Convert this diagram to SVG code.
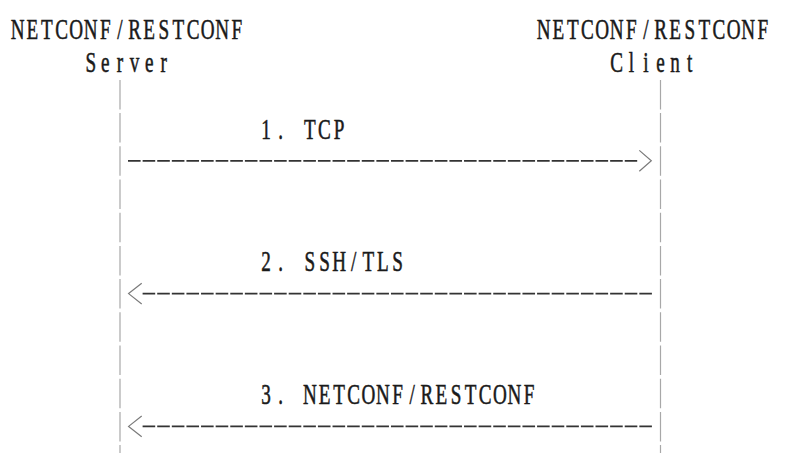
<svg xmlns="http://www.w3.org/2000/svg" width="790" height="453" viewBox="0 0 790 453">
<style>
  .t { font-family: "Liberation Serif", "Times New Roman", serif; font-size: 29px; fill: #1a1a1a; stroke: #1a1a1a; stroke-width: 0.55; text-anchor: middle; }
  .life { stroke: #a8a8a8; stroke-width: 1.2; stroke-dasharray: 29.5 3.7; fill: none; }
  .dash { stroke: #333333; stroke-width: 1.7; stroke-dasharray: 12.6 2.01; fill: none; }
  .head { stroke: #7a7a7a; stroke-width: 1.2; fill: none; stroke-linejoin: miter; }
</style>
<rect width="790" height="453" fill="#ffffff"/>
<g id="server">
  <text class="t" transform="matrix(0.66 0 0 1 10.4 0)" y="39" x="11.07 33.20 55.34 77.48 99.61 121.75 143.88 166.02 188.16 210.29 232.43 254.56 276.70 298.84 320.97 343.11">NETCONF/RESTCONF</text>
  <text class="t" transform="matrix(0.66 0 0 1 10.4 0)" y="72.2" x="121.75 143.88 166.02 188.16 210.29 232.43">Server</text>
  <line class="life" x1="120" y1="79.9" x2="120" y2="460"/>
</g>
<g id="client">
  <text class="t" transform="matrix(0.66 0 0 1 10.4 0)" y="39" x="807.96 830.10 852.24 874.37 896.51 918.64 940.78 962.92 985.05 1007.19 1029.32 1051.46 1073.60 1095.73 1117.87 1140.00">NETCONF/RESTCONF</text>
  <text class="t" transform="matrix(0.66 0 0 1 10.4 0)" y="72.2" x="918.64 940.78 962.92 985.05 1007.19 1029.32">Client</text>
  <line class="life" x1="660.5" y1="79.9" x2="660.5" y2="460"/>
</g>
<g id="connectors">
  <g id="msg1">
    <text class="t" transform="matrix(0.66 0 0 1 10.4 0)" y="138.6" x="387.38 409.52 431.65 453.79 475.92 498.06">1. TCP</text>
    <line class="dash" x1="128" y1="160.8" x2="637.2" y2="160.8"/>
    <polyline class="head" points="639.3,150.4 651.3,160.8 639.3,171.2"/>
  </g>
  <g id="msg2">
    <text class="t" transform="matrix(0.66 0 0 1 10.4 0)" y="271.4" x="387.38 409.52 431.65 453.79 475.92 498.06 520.20 542.33 564.47 586.60">2. SSH/TLS</text>
    <line class="dash" x1="142.6" y1="293.6" x2="651.9" y2="293.6"/>
    <polyline class="head" points="141.7,283.2 128.6,293.6 141.7,304"/>
  </g>
  <g id="msg3">
    <text class="t" transform="matrix(0.66 0 0 1 10.4 0)" y="404.2" x="387.38 409.52 431.65 453.79 475.92 498.06 520.20 542.33 564.47 586.60 608.74 630.88 653.01 675.15 697.28 719.42 741.56 763.69 785.83">3. NETCONF/RESTCONF</text>
    <line class="dash" x1="142.6" y1="426.4" x2="651.9" y2="426.4"/>
    <polyline class="head" points="141.7,416 128.6,426.4 141.7,436.8"/>
  </g>
</g>
</svg>
